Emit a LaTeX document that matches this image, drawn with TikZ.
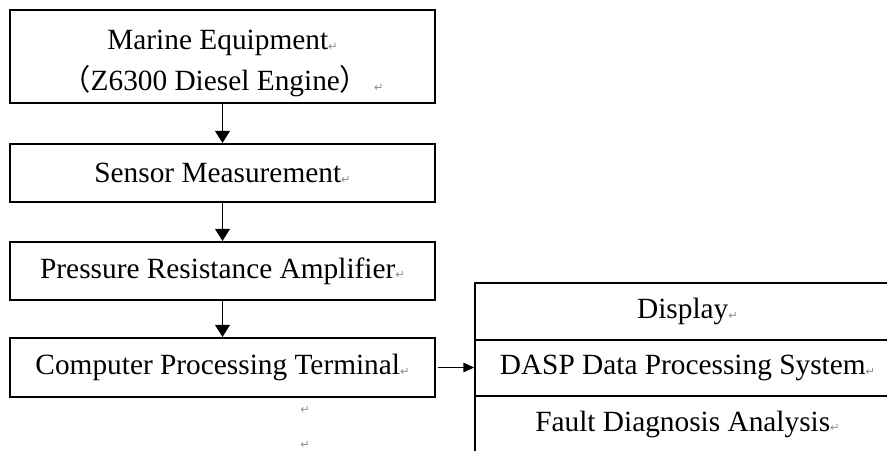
\documentclass[tikz,border=0pt]{standalone}
\usepackage{fontspec}
\setmainfont{Liberation Serif}
\newfontfamily\cjkfont{Noto Sans CJK SC}
\newfontfamily\markfont{DejaVu Sans}
\usetikzlibrary{arrows.meta}
% paragraph mark shown after each line of text
\newcommand{\pmark}{{\markfont\color{black!45}\fontsize{8.5pt}{8.5pt}\selectfont\raisebox{-0.5pt}{↵}}}
\tikzset{
  flowbox/.style={draw, line width=1.6pt, inner sep=0pt, minimum width=318.75pt,
    font=\fontsize{22pt}{28pt}\selectfont, align=center},
  cell/.style={draw, line width=1.3pt, inner sep=0pt, minimum width=318.75pt,
    font=\fontsize{22pt}{28pt}\selectfont},
  flowarrow/.style={line width=1.2pt, -{Triangle[width=11pt,length=9pt]}},
  sidearrow/.style={line width=1pt, -{Triangle[width=7pt,length=8pt]}}
}
\begin{document}
\begin{tikzpicture}[x=0.75pt, y=-0.75pt]
\useasboundingbox (0,0) rectangle (887,450);
\clip (0,0) rectangle (887,450);
\fill[white] (0,0) rectangle (887,450);

% main chain
\node[flowbox, minimum height=69.75pt] (equip) at (222.5,56.5)
  {\rule{0pt}{25pt}Marine Equipment\pmark\\[2.5pt]{\cjkfont （}Z6300 Diesel Engine{\cjkfont ）}\,\pmark};
\node[flowbox, minimum height=43.5pt] (sensor) at (222.5,173) {Sensor Measurement\pmark};
\node[flowbox, minimum height=43.5pt] (amp) at (222.5,271) {Pressure Resistance Amplifier\pmark};
\node[flowbox, minimum height=44.25pt] (comp) at (222.5,367.5) {Computer Processing Terminal\pmark};

% output column
\node[cell, minimum height=42.75pt] (disp) at (687.5,311.5) {Display\pmark};
\node[cell, minimum height=42pt] (dasp) at (687.5,368) {DASP Data Processing System\pmark};
\node[cell, minimum height=55.5pt, text depth=18pt] (fault) at (687.5,433) {Fault Diagnosis Analysis\pmark};

% empty paragraph marks below the chain
\node[inner sep=0pt] (blank1) at (305,410) {\pmark};
\node[inner sep=0pt] (blank2) at (305,445) {\pmark};

% connectors
\draw[flowarrow] (equip.south) -- (sensor.north);
\draw[flowarrow] (sensor) -- (amp);
\draw[flowarrow] (amp) -- (comp);
\coordinate (compout) at ([xshift=1.5pt]comp.east);
\draw[sidearrow] (compout) -- (compout -| dasp.west);
\end{tikzpicture}
\end{document}
